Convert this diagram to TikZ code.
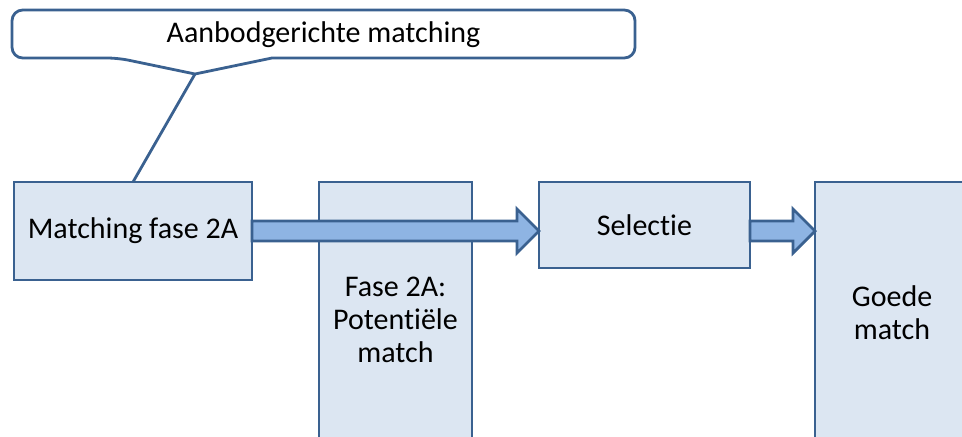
\documentclass[tikz,border=0pt]{standalone}
\usepackage{fontspec}
\setmainfont{Carlito}[Ligatures={NoCommon,NoContextual}]
\usetikzlibrary{calc}
\definecolor{boxfill}{HTML}{DCE6F2}
\definecolor{boxline}{HTML}{3A6190}
\definecolor{arrfill}{HTML}{8EB4E3}
\begin{document}
\begin{tikzpicture}[x=0.75pt,y=-0.75pt,
  every node/.style={inner sep=0pt,outer sep=0pt,font=\fontsize{22.5}{24.75}\selectfont,align=center},
  stepbox/.style={draw=boxline,fill=boxfill,line width=2.1pt},
  arr/.style={draw=boxline,fill=arrfill,line width=2.1pt,line join=miter},
  callbox/.style={draw=boxline,fill=white,line width=2.1pt,line join=round}]
\useasboundingbox (0,0) rectangle (962,436);
\clip (0,0) rectangle (962,436);
% boxes
\node[stepbox,minimum width=178.5pt,minimum height=73.5pt] (m1) at (133,231) {Matching fase 2A};
\node[stepbox,minimum width=114.75pt,minimum height=207pt] (pot) at (395.5,320) {Fase 2A:\\Potentiële\\match};
\node[stepbox,minimum width=158.25pt,minimum height=64.5pt] (sel) at (644.5,225) {Selectie};
\node[stepbox,minimum width=115.5pt,minimum height=196.5pt] (goed) at (892,313) {Goede\\match};
% arrows
\coordinate (t1) at (sel.west |- m1.east);
\draw[arr] ($(m1.east)+(0,-10)$) -- ($(t1)+(-22,-10)$) -- ($(t1)+(-22,-22)$) -- (t1)
  -- ($(t1)+(-22,22)$) -- ($(t1)+(-22,10)$) -- ($(m1.east)+(0,10)$) -- cycle;
\coordinate (s2) at (sel.east |- m1.east);
\coordinate (t2) at (goed.west |- m1.east);
\draw[arr] ($(s2)+(0,-10)$) -- ($(t2)+(-22,-10)$) -- ($(t2)+(-22,-22)$) -- (t2)
  -- ($(t2)+(-22,22)$) -- ($(t2)+(-22,10)$) -- ($(s2)+(0,10)$) -- cycle;
% callout
\coordinate (tip) at (195,74);
\draw[callbox] (tip) -- (272,58) [rounded corners=8pt] -- (635,58) -- (635,10) -- (12,10) -- (12,58) -- (118,58) [sharp corners] -- cycle;
\node (call) at (323.5,35) {Aanbodgerichte matching};
\draw[boxline,line width=2.1pt] (tip) -- (m1.north);
\end{tikzpicture}
\end{document}
